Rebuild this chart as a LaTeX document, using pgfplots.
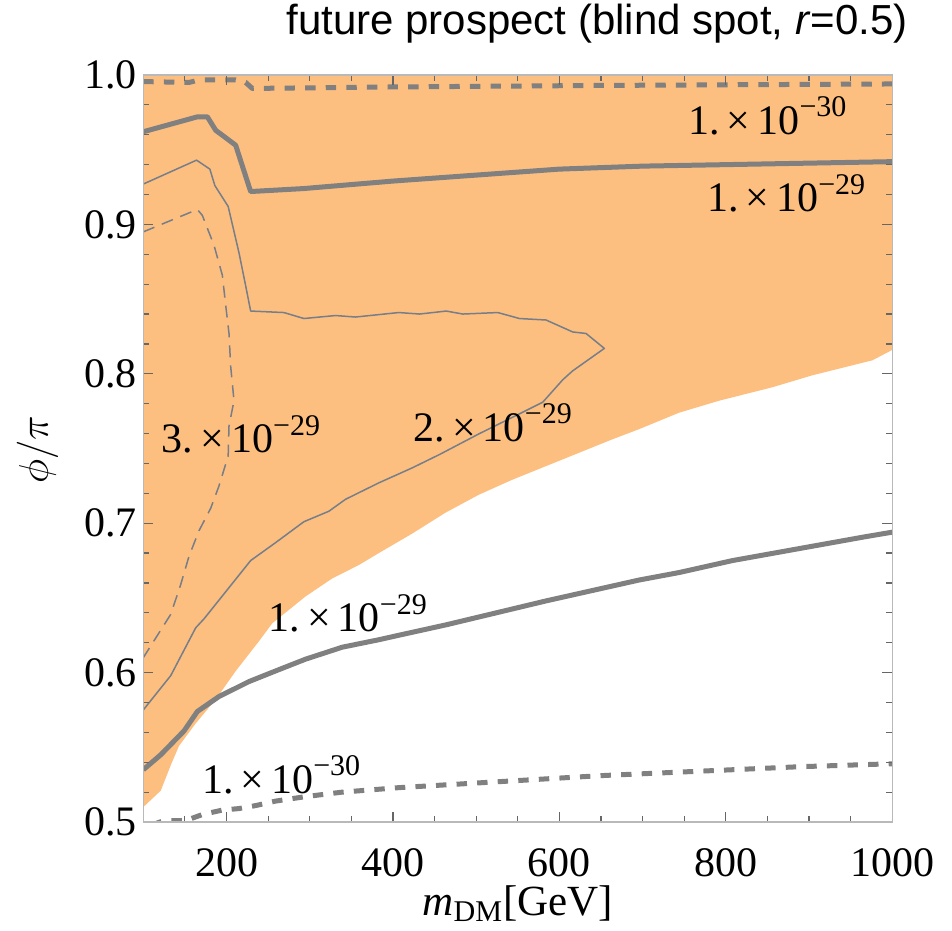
\documentclass[border=0pt]{standalone}
\usepackage{fontspec}
\setmainfont{Liberation Serif}
\newfontfamily\titlefont{Liberation Sans}
\usepackage{pgfplots}
\pgfplotsset{compat=1.18}
\definecolor{fillor}{RGB}{253,191,127}
\definecolor{lgray}{RGB}{128,128,128}
\definecolor{tgray}{RGB}{118,126,138}
\newcommand{\lab}[2]{#1.\,\texttimes\,10\raisebox{0.42em}{\fontsize{15}{15}\selectfont −#2}}
\begin{document}
\begin{tikzpicture}
\begin{axis}[
  scale only axis, width=374.5pt, height=373.5pt,
  xmin=100, xmax=1000, ymin=0.5, ymax=1.0,
  xtick={200,400,600,800,1000}, xticklabels={200,400,600,800,1000},
  minor xtick={100,150,200,250,300,350,400,450,500,550,600,650,700,750,800,850,900,950,1000},
  ytick={0.5,0.6,0.7,0.8,0.9,1.0}, yticklabels={0.5,0.6,0.7,0.8,0.9,1.0},
  minor ytick={0.52,0.54,0.56,0.58,0.62,0.64,0.66,0.68,0.72,0.74,0.76,0.78,0.82,0.84,0.86,0.88,0.92,0.94,0.96,0.98},
  tick align=inside, major tick length=5pt, minor tick length=3pt,
  axis line style={draw=gray!55, line width=0.6pt},
  tick style={color=black!60, line width=0.6pt},
  xticklabel style={font=\fontsize{21}{25}\selectfont, inner sep=0pt, yshift=-13pt},
  yticklabel style={font=\fontsize{21}{25}\selectfont, inner sep=0pt, xshift=-3pt},
  xlabel={\textit{m}\textsubscript{DM}[GeV]},
  xlabel style={at={(axis description cs:0.5,-0.109)}, anchor=center, inner sep=0pt, font=\fontsize{21.5}{25}\selectfont},
  ylabel={$\phi/\pi$},
  ylabel style={at={(axis description cs:-0.1413,0.498)}, anchor=center, font=\fontsize{21}{25}\selectfont},
  title={future prospect (blind spot, \textit{r}=0.5)},
  title style={at={(axis description cs:1.021,1.0388)}, anchor=base east, inner sep=0pt, font=\titlefont\fontsize{21}{25}\selectfont},
  axis on top,
]
% allowed region
\addplot[fill=fillor, draw=none] coordinates {
 (100,1.0) (1000,1.0) (1000,0.816) (976,0.809) (904,0.799) (856,0.791) (792,0.782) (744,0.774)
 (696,0.763) (663,0.756) (623,0.747) (583,0.738) (543,0.729) (503,0.719) (463,0.707) (423,0.693)
 (383,0.680) (359,0.672) (327,0.663) (295,0.651) (255,0.633) (239,0.621) (211,0.601) (187,0.582)
 (163,0.566) (143,0.551) (133,0.538) (121,0.521) (100,0.510)
} -- cycle;
% upper thick dashed 1e-30
\addplot[lgray, line width=2.5pt, dash pattern=on 5.2pt off 5.1pt, line join=round] coordinates {
 (100,0.9956) (155,0.995) (167,0.9967) (211,0.9967) (223,0.995) (231,0.991) (400,0.992) (648,0.993) (1000,0.994)
};
% upper thick solid 1e-29
\addplot[lgray, line width=2.5pt, line join=round] coordinates {
 (100,0.962) (165,0.972) (177,0.972) (187,0.963) (211,0.953) (229,0.922) (293,0.924) (400,0.929)
 (500,0.933) (600,0.937) (700,0.939) (800,0.940) (900,0.941) (1000,0.942)
};
% thin solid 2e-29
\addplot[tgray, line width=0.75pt, line join=round] coordinates {
 (100,0.575) (133,0.598) (163,0.630) (173,0.636) (229,0.675) (259,0.687) (293,0.701) (323,0.708)
 (343,0.716) (383,0.727) (423,0.737) (456,0.746) (504,0.760) (544,0.771) (580,0.781)
 (604,0.796) (616,0.802) (654,0.817) (632,0.827) (616,0.828) (584,0.836) (552,0.837) (526,0.841)
 (484,0.840) (464,0.842) (432,0.840) (407,0.841) (355,0.838) (331,0.839) (293,0.837) (269,0.841)
 (229,0.842) (223,0.859) (215,0.881) (202,0.912) (186,0.926) (180,0.937) (164,0.943) (100,0.927)
};
% thin dashed 3e-29
\addplot[tgray, line width=0.75pt, dash pattern=on 6pt off 4pt, line join=round] coordinates {
 (100,0.895) (165,0.910) (171,0.906) (185,0.886) (195,0.866) (199,0.846) (203,0.827) (205,0.805)
 (209,0.782) (203,0.765) (202,0.745) (191,0.725) (181,0.710) (167,0.695) (155,0.678) (145,0.659)
 (133,0.639) (100,0.610)
};
% lower thick solid 1e-29
\addplot[lgray, line width=2.5pt, line join=round] coordinates {
 (100,0.535) (121,0.545) (149,0.561) (165,0.574) (191,0.584) (227,0.594) (263,0.602) (295,0.609)
 (339,0.617) (383,0.622) (407,0.625) (464,0.632) (584,0.648) (664,0.658) (696,0.662) (744,0.667)
 (808,0.675) (928,0.687) (968,0.691) (1000,0.694)
};
% lower thick dashed 1e-30
\addplot[lgray, line width=2.5pt, dash pattern=on 5.2pt off 5.1pt, line join=round] coordinates {
 (110,0.498) (125,0.501) (151,0.501) (171,0.505) (195,0.508) (215,0.509) (235,0.511) (259,0.514)
 (295,0.517) (339,0.520) (407,0.523) (648,0.531) (768,0.534) (888,0.537) (1000,0.539)
};
% contour labels
\begin{scope}[every node/.style={font=\fontsize{21}{25}\selectfont, inner sep=0pt, anchor=base west}]
\node at (axis cs:754.5,0.9605) {\lab{1}{30}};
\node at (axis cs:777,0.9085) {\lab{1}{29}};
\node at (axis cs:424.4,0.7546) {\lab{2}{29}};
\node at (axis cs:122,0.7472) {\lab{3}{29}};
\node at (axis cs:250.2,0.6274) {\lab{1}{29}};
\node at (axis cs:170.2,0.5192) {\lab{1}{30}};
\end{scope}
\coordinate (bbA) at (axis description cs:-0.1913,-0.1446);
\coordinate (bbB) at (axis description cs:1.0797,1.1004);
\end{axis}
\pgfresetboundingbox
\path (bbA) rectangle (bbB);
\end{tikzpicture}
\end{document}
